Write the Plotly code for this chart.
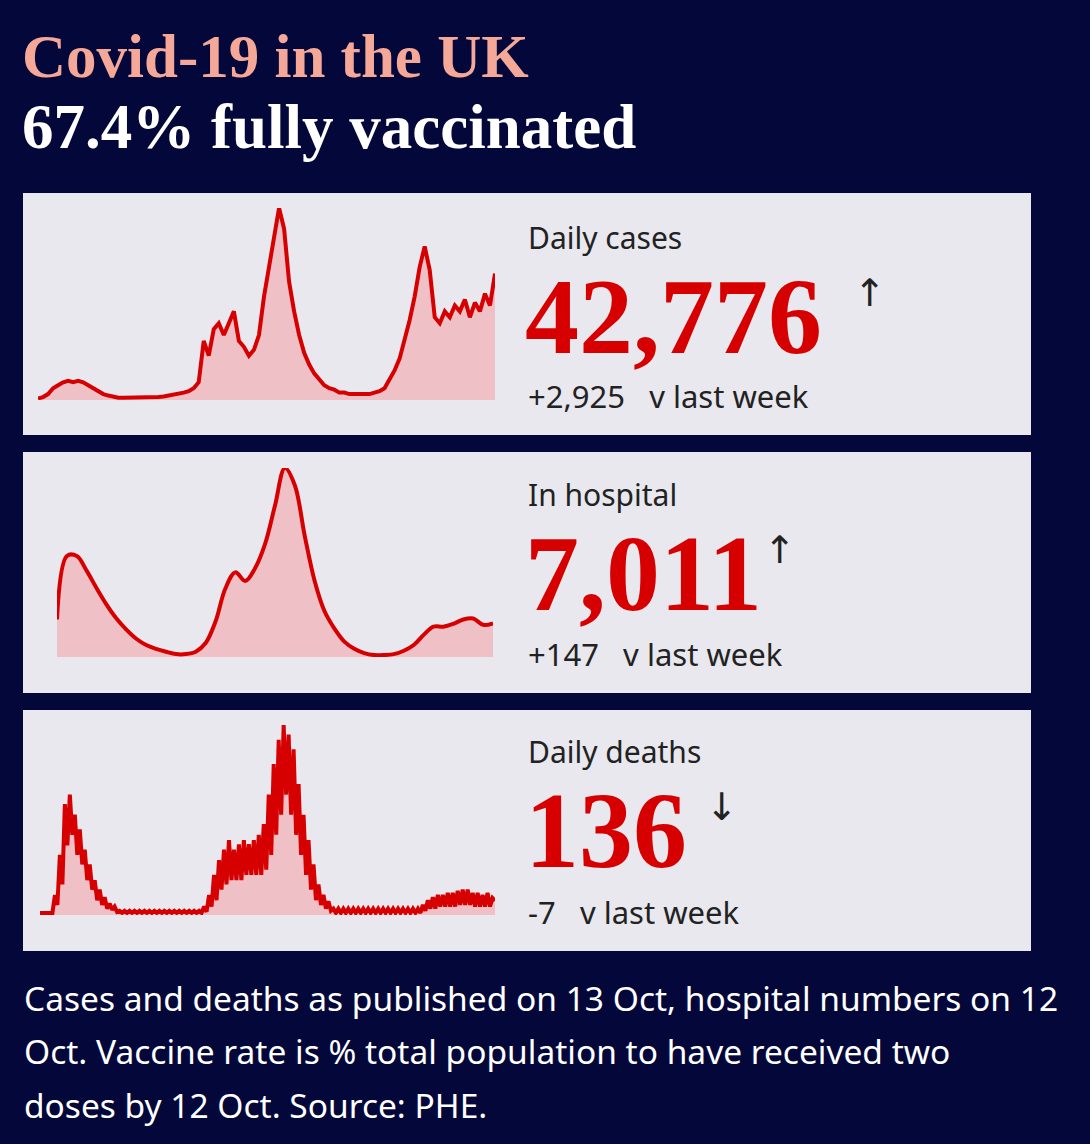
import plotly.graph_objects as go

W, H = 1090, 1144
BG = "#03073a"
PANEL = "#e8e8ee"
RED = "#d70000"
FILL = "rgba(240,190,196,0.95)"

# Daily cases (thousands), roughly weekly samples
cases = [0.5, 1, 2, 4, 5, 6, 6.5, 6, 6.5, 6, 5, 4, 3, 2, 1.5, 1, 0.8, 0.8, 0.8, 0.8, 0.8, 0.9, 1, 1, 1, 1.2, 1.5, 2, 2, 2.5, 3,
         4, 6, 20, 15, 24, 26, 22, 26, 30, 20, 18, 15, 17, 22, 35, 45, 55, 65, 58, 40, 30, 22, 16, 12, 9, 7, 5, 4, 3.5,
         2.5, 2.5, 2, 2, 2, 2, 2, 2.5, 3, 4, 7, 10, 14, 20, 27, 35, 45, 52, 44, 28, 26, 30, 28, 32, 30, 34, 28, 33, 30, 36, 32, 42.8]

# Patients in hospital (thousands)
hospital = [7.8, 21, 21, 17.9, 14.3, 10.9, 8, 5.7, 3.8, 2.5, 1.7, 1.1, 0.6, 0.6, 1.1, 2.9, 7.4, 14.3, 17.6, 15.8,
            18.5, 23.5, 31.5, 39.3, 35.7, 25.2, 15.8, 9.5, 5.9, 3.2, 1.7, 0.8, 0.4, 0.4, 0.6, 1.3, 2.5, 4.6, 6.3, 6.3,
            6.9, 7.8, 8, 6.7, 7.0]

# Daily deaths, upper (weekday) and lower (weekend) values
deaths_hi = [20, 20, 20, 190, 570, 1050, 1140, 950, 810, 620, 480, 330, 240, 170, 110, 80, 40, 40, 40, 40, 40, 40, 40, 40,
             40, 40, 40, 40, 40, 40, 40, 40, 40, 80, 190, 380, 520, 620, 710, 620, 670, 710, 670, 710, 760, 860, 1140,
             1430, 1660, 1800, 1710, 1570, 1240, 950, 710, 480, 290, 190, 130, 60, 60, 60, 60, 60, 60, 60, 60, 60, 60, 60,
             60, 60, 60, 60, 60, 60, 60, 95, 140, 170, 190, 190, 210, 210, 230, 240, 240, 210, 210, 190, 210, 160]
deaths_lo = [20, 20, 20, 95, 290, 660, 760, 570, 480, 330, 240, 140, 95, 60, 50, 30, 20, 20, 20, 20, 20, 20, 20, 20,
             20, 20, 20, 20, 20, 20, 20, 20, 20, 30, 80, 140, 240, 290, 330, 330, 330, 380, 380, 380, 380, 430, 570,
             760, 950, 1140, 950, 760, 570, 380, 240, 140, 95, 60, 40, 20, 20, 20, 20, 20, 20, 20, 20, 20, 20, 20,
             20, 20, 20, 20, 20, 20, 20, 40, 60, 60, 80, 80, 80, 80, 95, 95, 95, 80, 80, 80, 80, 136]

deaths = []
for h, l in zip(deaths_hi, deaths_lo):
    deaths += [h, l]

fig = go.Figure()

def px(x):
    return x / W

def py(y):
    return 1 - y / H

panels = [(193, 435), (452, 693), (710, 951)]
shapes = []
for t, b in panels:
    shapes.append(dict(type="rect", xref="paper", yref="paper", x0=px(23), x1=px(1031), y0=py(b), y1=py(t),
                       fillcolor=PANEL, line_width=0, layer="below"))

specs = [
    (cases, 38, 495, 400, 208, "", "linear"),
    (hospital, 57, 493, 657, 468, "2", "spline"),
    (deaths, 40, 495, 915, 725, "3", "linear"),
]
layout_axes = {}
for vals, x0, x1, base, top, n, shp in specs:
    fig.add_trace(go.Scatter(x=list(range(len(vals))), y=vals, mode="lines", fill="tozeroy", fillcolor=FILL,
                             line=dict(color=RED, width=4, shape=shp), xaxis="x" + n, yaxis="y" + n,
                             hoverinfo="skip", showlegend=False))
    layout_axes["xaxis" + n] = dict(domain=[px(x0), px(x1)], range=[0, len(vals) - 1], visible=False, fixedrange=True)
    layout_axes["yaxis" + n] = dict(domain=[py(base), py(top)], range=[0, max(vals)], visible=False, fixedrange=True)

ann = []
def text(x, y, s, size, color, family, anchor="left"):
    ann.append(dict(x=px(x), y=py(y), xref="paper", yref="paper", text=s, showarrow=False, xanchor=anchor,
                    yanchor="middle", font=dict(size=size, color=color, family=family)))

SERIF = "Liberation Serif"
SANS = "Noto Sans"
text(20, 56, "<b>Covid-19 in the UK</b>", 61, "#f5a898", SERIF)
text(20, 127, "<b>67.4% fully vaccinated</b>", 63, "#ffffff", SERIF)

blocks = [
    (237, "Daily cases", "42,776", "↑", 870, "+2,925   v last week", 396),
    (494, "In hospital", "7,011", "↑", 780, "+147   v last week", 654),
    (751, "Daily deaths", "136", "↓", 722, "-7   v last week", 912),
]
for y, label, num, arrow, ax, diff, dy in blocks:
    text(526, y, label, 30, "#222222", SANS)
    text(523, y + 79, "<b>" + num + "</b>", 108, RED, SERIF)
    text(ax, y + 56, arrow, 38, "#222222", "DejaVu Sans", "center")
    text(526, dy, diff, 31, "#222222", SANS)

text(22, 998, "Cases and deaths as published on 13 Oct, hospital numbers on 12", 33.5, "#ffffff", SANS)
text(22, 1051, "Oct. Vaccine rate is % total population to have received two", 33.5, "#ffffff", SANS)
text(22, 1105, "doses by 12 Oct. Source: PHE.", 33.5, "#ffffff", SANS)

fig.update_layout(width=W, height=H, margin=dict(l=0, r=0, t=0, b=0), paper_bgcolor=BG, plot_bgcolor=BG,
                  shapes=shapes, annotations=ann, **layout_axes)
fig.write_html("out.html", config={"displayModeBar": False})

with open("out.html", encoding="utf-8") as f:
    html = f.read()
html = html.replace("<body>", '<body style="margin:0;background:%s">' % BG, 1)
with open("out.html", "w", encoding="utf-8") as f:
    f.write(html)
